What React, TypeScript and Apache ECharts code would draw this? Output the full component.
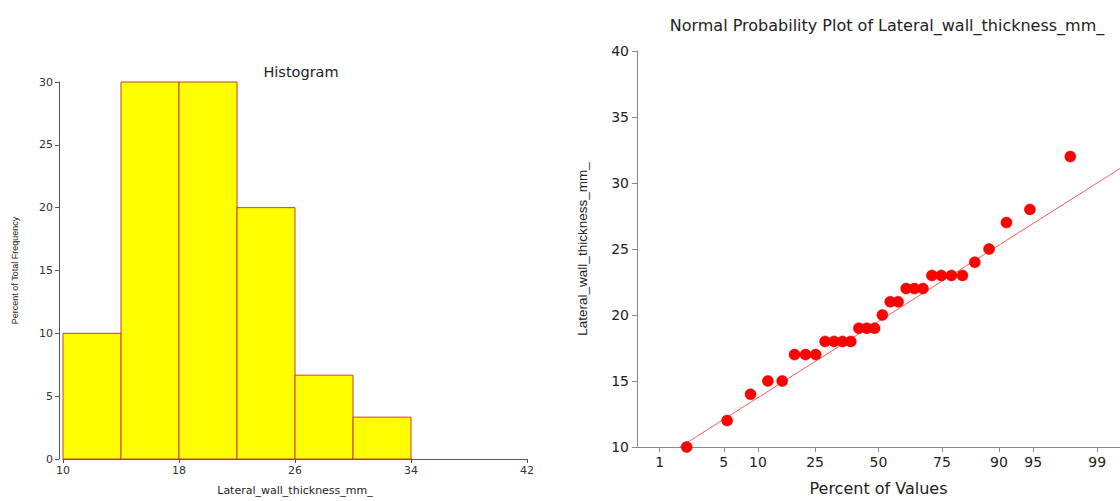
import React, { useEffect, useRef } from "react";
import * as echarts from "echarts";

// ---- Histogram data ----
const histBinStart = [10, 14, 18, 22, 26, 30];
const histBinEnd = [14, 18, 22, 26, 30, 34];
const histPercent = [10, 30, 30, 20, 6.67, 3.33];
const histXTicks = [10, 18, 26, 34, 42];

// ---- Normal probability plot data ----
const thickness = [10, 12, 14, 15, 15, 17, 17, 17, 18, 18, 18, 18, 19, 19, 19, 20, 21, 21, 22, 22, 22, 23, 23, 23, 23, 24, 25, 27, 28, 32];
const percentPos = [2.07, 5.37, 8.68, 11.98, 15.29, 18.6, 21.9, 25.21, 28.51, 31.82, 35.12, 38.43, 41.74, 45.04, 48.35, 51.65, 54.96, 58.26, 61.57, 64.88, 68.18, 71.49, 74.79, 78.1, 81.4, 84.71, 88.02, 91.32, 94.63, 97.93];
const fitPercent = [1.74, 99.49];
const fitValue = [10, 31.1];
const percentTicks = [1, 5, 10, 25, 50, 75, 90, 95, 99];

// inverse normal CDF (probability scale transform)
function probit(p: number): number {
  const a = [-3.969683028665376e1, 2.209460984245205e2, -2.759285104469687e2, 1.38357751867269e2, -3.066479806614716e1, 2.506628277459239];
  const b = [-5.447609879822406e1, 1.615858368580409e2, -1.556989798598866e2, 6.680131188771972e1, -1.328068155288572e1];
  const c = [-7.784894002430293e-3, -3.223964580411365e-1, -2.400758277161838, -2.549732539343734, 4.374664141464968, 2.938163982698783];
  const d = [7.784695709041462e-3, 3.224671290700398e-1, 2.445134137142996, 3.754408661907416];
  const pl = 0.02425;
  const ph = 1 - pl;
  if (p < pl) {
    const q = Math.sqrt(-2 * Math.log(p));
    return (((((c[0] * q + c[1]) * q + c[2]) * q + c[3]) * q + c[4]) * q + c[5]) / ((((d[0] * q + d[1]) * q + d[2]) * q + d[3]) * q + 1);
  }
  if (p <= ph) {
    const q = p - 0.5;
    const r = q * q;
    return ((((((a[0] * r + a[1]) * r + a[2]) * r + a[3]) * r + a[4]) * r + a[5]) * q) / (((((b[0] * r + b[1]) * r + b[2]) * r + b[3]) * r + b[4]) * r + 1);
  }
  const q = Math.sqrt(-2 * Math.log(1 - p));
  return -(((((c[0] * q + c[1]) * q + c[2]) * q + c[3]) * q + c[4]) * q + c[5]) / ((((d[0] * q + d[1]) * q + d[2]) * q + d[3]) * q + 1);
}

const FONT = "'Liberation Sans', Arial, Helvetica, sans-serif";
const WIDE = "'DejaVu Sans', 'Liberation Sans', Arial, sans-serif";

export default function App() {
  const ref = useRef<HTMLDivElement>(null);
  useEffect(() => {
    document.body.style.margin = "0";
    const chart = echarts.init(ref.current!, undefined, { renderer: "svg" });
    const tickZ = percentTicks.map((p) => probit(p / 100));
    const scatterData = thickness.map((v, i) => [probit(percentPos[i] / 100), v]);
    const fitData = fitPercent.map((p, i) => [probit(p / 100), fitValue[i]]);
    const histData = histBinStart.map((s, i) => [s, histBinEnd[i], histPercent[i]]);

    chart.setOption({
      animation: false,
      textStyle: { fontFamily: FONT },
      title: [
        {
          text: "Histogram",
          left: 296,
          top: 59,
          textAlign: "center",
          textStyle: { fontSize: 14.5, fontWeight: "normal", color: "#222", fontFamily: WIDE },
        },
        {
          text: "Normal Probability Plot of Lateral_wall_thickness_mm_",
          left: 882,
          top: 12,
          textAlign: "center",
          textStyle: { fontSize: 16, fontWeight: "normal", color: "#222", fontFamily: WIDE },
        },
      ],
      grid: [
        { left: 63, top: 82, width: 464, height: 379 },
        { left: 637, top: 51, width: 492, height: 404 },
      ],
      xAxis: [
        {
          gridIndex: 0,
          type: "value",
          min: 10,
          max: 42,
          name: "Lateral_wall_thickness_mm_",
          nameLocation: "middle",
          nameGap: 26,
          nameTextStyle: { fontSize: 11, color: "#222", fontFamily: WIDE },
          axisLine: { show: true, onZero: false, lineStyle: { color: "#555" } },
          axisTick: { show: true, length: 4, customValues: histXTicks, lineStyle: { color: "#555" } },
          axisLabel: { customValues: histXTicks, fontSize: 11, color: "#333", margin: 6, fontFamily: WIDE },
          splitLine: { show: false },
        },
        {
          gridIndex: 1,
          type: "value",
          min: -2.568,
          max: 2.568,
          name: "Percent of Values",
          nameLocation: "middle",
          nameGap: 33,
          nameTextStyle: { fontSize: 16, color: "#222", fontFamily: WIDE },
          axisLine: { show: true, onZero: false, lineStyle: { color: "#8a8a8a" } },
          axisTick: { show: true, length: 5, customValues: tickZ, lineStyle: { color: "#8a8a8a" } },
          axisLabel: {
            customValues: tickZ,
            fontSize: 14,
            color: "#222",
            margin: 8,
            fontFamily: WIDE,
            formatter: (v: number) => {
              const idx = tickZ.findIndex((z) => Math.abs(z - v) < 1e-6);
              return idx >= 0 ? String(percentTicks[idx]) : "";
            },
          },
          splitLine: { show: false },
        },
      ],
      yAxis: [
        {
          gridIndex: 0,
          type: "value",
          min: 0,
          max: 30,
          interval: 5,
          offset: 4,
          name: "Percent of Total Frequency",
          nameLocation: "middle",
          nameGap: 40,
          nameTextStyle: { fontSize: 9, color: "#222" },
          axisLine: { show: true, onZero: false, lineStyle: { color: "#555" } },
          axisTick: { show: true, length: 4, lineStyle: { color: "#555" } },
          axisLabel: { fontSize: 11, color: "#333", margin: 6, fontFamily: WIDE },
          splitLine: { show: false },
        },
        {
          gridIndex: 1,
          type: "value",
          min: 10,
          max: 40,
          interval: 5,
          name: "Lateral_wall_thickness_mm_",
          nameLocation: "middle",
          nameGap: 48,
          nameTextStyle: { fontSize: 13.5, color: "#222" },
          axisLine: { show: true, onZero: false, lineStyle: { color: "#8a8a8a" } },
          axisTick: { show: true, length: 5, lineStyle: { color: "#8a8a8a" } },
          axisLabel: { fontSize: 14, color: "#222", margin: 8, fontFamily: WIDE },
          splitLine: { show: false },
        },
      ],
      series: [
        {
          type: "custom",
          xAxisIndex: 0,
          yAxisIndex: 0,
          data: histData,
          encode: { x: [0, 1], y: 2 },
          renderItem: (params: any, api: any) => {
            const p0 = api.coord([api.value(0), api.value(2)]);
            const p1 = api.coord([api.value(1), 0]);
            return {
              type: "rect",
              shape: { x: p0[0], y: p0[1], width: p1[0] - p0[0], height: p1[1] - p0[1] },
              style: { fill: "#ffff00", stroke: "#c8402c", lineWidth: 1 },
            };
          },
        },
        {
          type: "line",
          xAxisIndex: 1,
          yAxisIndex: 1,
          data: fitData,
          showSymbol: false,
          symbol: "none",
          clip: true,
          lineStyle: { color: "#ff5a5a", width: 1 },
          z: 2,
        },
        {
          type: "scatter",
          xAxisIndex: 1,
          yAxisIndex: 1,
          data: scatterData,
          symbol: "circle",
          symbolSize: 11,
          clip: false,
          itemStyle: { color: "#ff0000", opacity: 1, borderColor: "#d00000", borderWidth: 0.5 },
          z: 3,
        },
      ],
    });
    return () => chart.dispose();
  }, []);
  return <div ref={ref} style={{ width: 1120, height: 501, position: "absolute", left: 0, top: 0 }} />;
}
